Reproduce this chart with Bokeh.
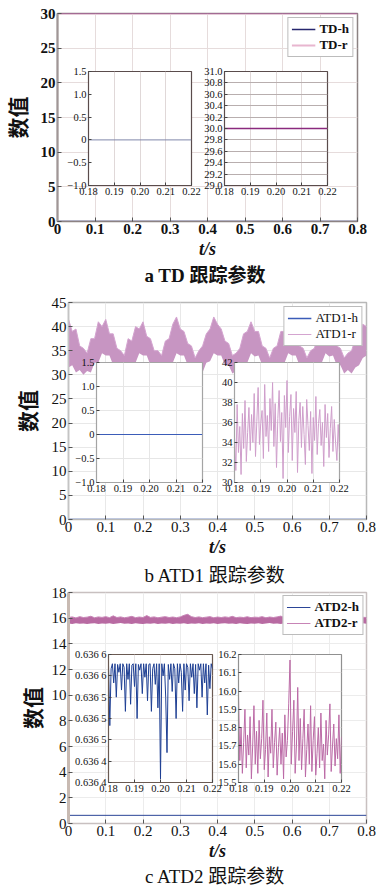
import numpy as np
from bokeh.plotting import figure
from bokeh.models import Range1d, FixedTicker, Legend, LegendItem, Title
from bokeh.layouts import column
from bokeh.embed import file_html
from bokeh.resources import INLINE

SERIF = "Liberation Serif"
CJK = "Noto Sans CJK SC"
MIX = "Liberation Serif, Noto Sans CJK SC"

# ---------------- data ----------------
x_ticks_main = [0, 0.1, 0.2, 0.3, 0.4, 0.5, 0.6, 0.7, 0.8]
x_labels_main = ["0", "0.1", "0.2", "0.3", "0.4", "0.5", "0.6", "0.7", "0.8"]
x_ticks_zoom = [0.18, 0.19, 0.20, 0.21, 0.22]
x_labels_zoom = ["0.18", "0.19", "0.20", "0.21", "0.22"]

# panel a : TD
td_t = [0.0, 0.8]
td_h = [0.0, 0.0]
td_r = [30.0, 30.0]
td_t_zoom = [0.18, 0.22]
td_h_zoom = [0.0, 0.0]
td_r_zoom = [30.0, 30.0]
a_y_ticks = [0, 5, 10, 15, 20, 25, 30]
a1_y_ticks = [-1.0, -0.5, 0, 0.5, 1.0, 1.5]
a1_y_labels = ["\u22121.0", "\u22120.5", "0", "0.5", "1.0", "1.5"]
a2_y_ticks = [29.0, 29.2, 29.4, 29.6, 29.8, 30.0, 30.2, 30.4, 30.6, 30.8, 31.0]
a2_y_labels = ["29.0", "29.2", "29.4", "29.6", "29.8", "30.0", "30.2", "30.4", "30.6", "30.8", "31.0"]

# panel b : ATD1 (envelope of the dense r trace, read every 0.01 s)
atd1_r_up = [41.5, 39.0, 39.5, 36.0, 35.5, 34.5, 37.5, 37.5, 41.0, 40.0,
             41.5, 38.5, 38.5, 35.5, 35.0, 34.0, 37.5, 37.0, 40.0, 39.5,
             41.0, 38.0, 37.5, 35.0, 35.0, 34.0, 37.0, 37.5, 40.5, 42.0,
             39.5, 39.0, 36.5, 36.0, 33.5, 35.0, 36.0, 38.5, 39.5, 42.0,
             40.5, 39.5, 37.0, 36.5, 34.0, 34.5, 35.5, 38.5, 39.0, 41.0,
             39.0, 39.0, 36.0, 35.5, 33.5, 35.5, 36.0, 39.0, 39.0, 41.0,
             39.5, 38.5, 36.0, 35.5, 33.5, 35.0, 35.5, 38.0, 38.5, 40.5,
             39.0, 38.5, 36.0, 35.5, 33.5, 34.5, 35.0, 37.5, 38.0, 40.5, 40.0]
atd1_r_lo = [31.5, 32.0, 30.5, 31.0, 30.0, 30.8, 30.5, 32.5, 32.5, 34.5,
             34.0, 34.0, 32.0, 32.0, 30.3, 31.0, 30.5, 32.5, 32.5, 34.5,
             34.0, 34.0, 32.0, 32.0, 30.3, 30.8, 30.5, 32.5, 32.5, 34.5,
             34.0, 34.0, 32.0, 32.0, 30.3, 31.0, 30.5, 32.5, 32.8, 34.5,
             34.0, 34.0, 32.0, 32.0, 30.3, 30.8, 30.5, 32.5, 32.5, 34.5,
             33.8, 34.0, 32.0, 32.0, 30.3, 31.0, 30.5, 32.5, 32.5, 34.5,
             34.0, 34.0, 32.0, 32.0, 30.3, 31.0, 30.5, 32.5, 32.5, 34.5,
             33.8, 34.0, 32.0, 32.0, 30.3, 31.0, 30.3, 31.5, 32.0, 33.5, 34.0]
atd1_h = [0.0, 0.0]
atd1_h_zoom = [0.0, 0.0]
atd1_r_zoom = [34.5, 31.2, 37.8, 33.0, 35.6, 30.8, 36.9, 33.4, 38.2, 32.1,
               35.0, 37.5, 33.2, 36.8, 34.0, 38.9, 32.6, 36.1, 39.5, 33.8,
               35.9, 37.2, 32.4, 39.8, 34.6, 36.7, 33.1, 38.4, 35.2, 40.0,
               33.6, 37.9, 31.5, 36.4, 39.2, 34.1, 37.0, 30.4, 38.7, 35.5,
               40.2, 33.0, 36.6, 38.8, 32.2, 37.4, 35.0, 39.1, 31.0, 36.2,
               38.0, 33.5, 37.6, 34.8, 31.8, 38.3, 35.7, 33.2, 37.1, 30.9,
               36.5, 34.2, 38.6, 32.8, 35.9, 37.3, 33.7, 36.0, 31.6, 37.8,
               34.5, 36.9, 32.5, 35.4, 37.6, 33.1, 36.3, 34.0, 32.2, 35.8, 33.0]
b_y_ticks = [0, 5, 10, 15, 20, 25, 30, 35, 40, 45]
b1_y_ticks = a1_y_ticks
b1_y_labels = a1_y_labels
b2_y_ticks = [30, 32, 34, 36, 38, 40, 42]
b2_y_labels = ["30", "32", "34", "36", "38", "40", "42"]

# panel c : ATD2
atd2_r_up = [16.05, 16.10, 16.02, 16.12, 16.05, 16.08, 16.15, 16.03, 16.10, 16.06,
             16.12, 16.04, 16.18, 16.05, 16.10, 16.03, 16.08, 16.14, 16.04, 16.09,
             16.05, 16.20, 16.06, 16.10, 16.03, 16.08, 16.12, 16.05, 16.09, 16.04,
             16.10, 16.22, 16.30, 16.12, 16.05, 16.10, 16.04, 16.08, 16.12, 16.03,
             16.09, 16.05, 16.10, 16.06, 16.14, 16.04, 16.08, 16.05, 16.11, 16.04,
             16.08, 16.06, 16.12, 16.03, 16.09, 16.05, 16.10, 16.16, 16.05, 16.08,
             16.04, 16.10, 16.06, 16.12, 16.20, 16.05, 16.08, 16.04, 16.10, 16.06,
             16.03, 16.09, 16.05, 16.11, 16.04, 16.08, 16.05, 16.10, 16.04, 16.07, 16.05]
atd2_r_lo = [15.58, 15.55, 15.60, 15.56, 15.59, 15.54, 15.58, 15.61, 15.55, 15.58,
             15.56, 15.60, 15.55, 15.58, 15.62, 15.56, 15.59, 15.55, 15.60, 15.57,
             15.55, 15.59, 15.56, 15.61, 15.55, 15.58, 15.56, 15.60, 15.55, 15.58,
             15.57, 15.60, 15.55, 15.59, 15.56, 15.61, 15.55, 15.58, 15.56, 15.60,
             15.55, 15.58, 15.61, 15.56, 15.59, 15.55, 15.60, 15.57, 15.55, 15.59,
             15.56, 15.60, 15.55, 15.58, 15.62, 15.56, 15.59, 15.55, 15.60, 15.57,
             15.55, 15.58, 15.56, 15.61, 15.55, 15.59, 15.56, 15.60, 15.55, 15.58,
             15.57, 15.60, 15.55, 15.59, 15.56, 15.61, 15.55, 15.58, 15.56, 15.60, 15.57]
atd2_h = [0.6365, 0.6365]
atd2_h_zoom = [0.636565, 0.636480, 0.636560, 0.636567, 0.636540, 0.636567, 0.636520, 0.636566, 0.636555, 0.636567,
               0.636530, 0.636567, 0.636562, 0.636500, 0.636567, 0.636545, 0.636567, 0.636510, 0.636565, 0.636567,
               0.636535, 0.636567, 0.636490, 0.636566, 0.636558, 0.636567, 0.636525, 0.636567, 0.636548, 0.636567,
               0.636515, 0.636566, 0.636567, 0.636500, 0.636560, 0.636567, 0.636538, 0.636567, 0.636505, 0.636567,
               0.636405, 0.636567, 0.636550, 0.636567, 0.636520, 0.636442, 0.636566, 0.636545, 0.636567, 0.636528,
               0.636567, 0.636560, 0.636490, 0.636567, 0.636540, 0.636567, 0.636555, 0.636500, 0.636567, 0.636530,
               0.636567, 0.636562, 0.636515, 0.636567, 0.636548, 0.636567, 0.636525, 0.636566, 0.636505, 0.636567,
               0.636558, 0.636567, 0.636520, 0.636567, 0.636540, 0.636567, 0.636495, 0.636565, 0.636532, 0.636567, 0.636560]
atd2_r_zoom = [15.98, 15.62, 15.80, 15.55, 15.72, 15.90, 15.58, 15.76, 15.65, 15.86,
               15.52, 15.70, 15.92, 15.60, 15.78, 15.55, 15.84, 15.63, 15.74, 15.95,
               15.57, 15.68, 15.88, 15.53, 15.75, 15.66, 15.90, 15.58, 15.72, 15.83,
               15.54, 15.69, 15.80, 15.60, 15.77, 15.52, 15.87, 15.64, 15.73, 15.93,
               16.17, 15.60, 15.78, 15.95, 15.55, 15.70, 16.02, 15.62, 15.85, 15.57,
               15.74, 15.90, 15.53, 15.68, 15.82, 15.60, 15.92, 15.56, 15.73, 15.86,
               15.54, 15.66, 15.80, 15.58, 15.88, 15.62, 15.71, 15.52, 15.84, 15.65,
               15.76, 15.93, 15.56, 15.70, 15.82, 15.59, 15.74, 15.63, 15.87, 15.55, 15.75]
c_y_ticks = [0, 2, 4, 6, 8, 10, 12, 14, 16, 18]
c1_y_ticks = [0.63640, 0.63643, 0.63646, 0.63649, 0.63652, 0.63655, 0.63658]
c1_y_labels = ["0.636 4", "0.636 4", "0.636 5", "0.636 5", "0.636 5", "0.636 6", "0.636 6"]
c2_y_ticks = [15.5, 15.6, 15.7, 15.8, 15.9, 16.0, 16.1, 16.2]
c2_y_labels = ["15.5", "15.6", "15.7", "15.8", "15.9", "16.0", "16.1", "16.2"]

captions = ["a  TD 跟踪参数", "b  ATD1 跟踪参数", "c  ATD2 跟踪参数"]
x_axis_title = "t/s"
y_axis_title = "数值"
legend_a = ["TD-h", "TD-r"]
legend_b = ["ATD1-h", "ATD1-r"]
legend_c = ["ATD2-h", "ATD2-r"]

# sample times of the sampled series
t_main_b = np.linspace(0.0, 0.8, len(atd1_r_up))
t_main_c = np.linspace(0.0, 0.8, len(atd2_r_up))
t_zoom_b = np.linspace(0.18, 0.22, len(atd1_r_zoom))
t_zoom_c1 = np.linspace(0.18, 0.22, len(atd2_h_zoom))
t_zoom_c2 = np.linspace(0.18, 0.22, len(atd2_r_zoom))

# the column aligns the side borders of all its plots, so every plot gets the same ones;
# every plot must also stay within the 376 px page width
BL = 64
BR = 10


def absolute(left, top):
    return {"position": "absolute", "left": f"{left}px", "top": f"{top}px", "max-width": "none"}


# ---------------- helpers ----------------
def make_main(pos_top, ymax, yticks, fx, fy, fw, fh, bottom, grid_color, outline_color,
              yaxis_color, yaxis_width, bold, ylab_standoff, caption, cap_standoff):
    p = figure(frame_width=fw, frame_height=fh, x_range=Range1d(0, 0.8), y_range=Range1d(0, ymax),
               min_border_left=BL, min_border_right=BR, min_border_top=fy - pos_top,
               min_border_bottom=bottom, output_backend="svg", toolbar_location=None, title=None,
               styles=absolute(fx - BL, pos_top))
    p.xaxis.ticker = FixedTicker(ticks=x_ticks_main, minor_ticks=[])
    p.xaxis.major_label_overrides = dict(zip(x_ticks_main, x_labels_main))
    p.yaxis.ticker = FixedTicker(ticks=yticks, minor_ticks=[])
    for ax in (p.xaxis[0], p.yaxis[0]):
        ax.major_label_text_font = SERIF
        ax.major_label_text_font_size = "15px"
        ax.major_label_text_font_style = "bold" if bold else "normal"
        ax.major_label_text_color = "#111111"
        ax.major_tick_in = 4
        ax.major_tick_out = 0
        ax.minor_tick_in = 0
        ax.minor_tick_out = 0
        ax.major_tick_line_color = "#555555"
        ax.major_label_standoff = 2
    p.yaxis.axis_line_color = yaxis_color
    p.yaxis.axis_line_width = yaxis_width
    p.xaxis.axis_line_color = outline_color
    p.yaxis.axis_label = y_axis_title
    p.yaxis.axis_label_text_font = CJK
    p.yaxis.axis_label_text_font_size = "21px"
    p.yaxis.axis_label_text_font_style = "bold"
    p.yaxis.axis_label_text_color = "#111111"
    p.yaxis.axis_label_standoff = ylab_standoff
    p.xaxis.axis_label = x_axis_title
    p.xaxis.axis_label_text_font = SERIF
    p.xaxis.axis_label_text_font_size = "18px"
    p.xaxis.axis_label_text_font_style = "bold italic"
    p.xaxis.axis_label_text_color = "#111111"
    p.xaxis.axis_label_standoff = 2
    p.add_layout(Title(text=caption, align="center", text_font=MIX, text_font_size="19px",
                       text_font_style="bold" if bold else "normal", text_color="#111111",
                       standoff=cap_standoff), "below")
    p.grid.grid_line_color = grid_color
    p.grid.grid_line_width = 1
    p.outline_line_color = outline_color
    p.outline_line_width = 1.5
    p.background_fill_color = "white"
    p.border_fill_alpha = 0
    return p


def add_legend(p, items, bold, margin):
    lg = Legend(items=[LegendItem(label=l, renderers=[r]) for l, r in items], location="top_right",
                margin=margin, padding=3, spacing=0, glyph_width=24, glyph_height=14, label_height=14,
                label_standoff=4, label_text_font=SERIF, label_text_font_size="13px",
                label_text_font_style="bold" if bold else "normal", label_text_color="#111111",
                border_line_color="#7a7a7a", border_line_width=1,
                background_fill_color="white", background_fill_alpha=1)
    p.add_layout(lg)


def make_inset(fx, fy, fw, fh, yr, yticks, ylabels, outline_color, grid_color, hgrid_color):
    bt, bb = 7, 16
    p = figure(frame_width=fw, frame_height=fh, x_range=Range1d(0.18, 0.22), y_range=Range1d(*yr),
               min_border_left=BL, min_border_right=BR, min_border_top=bt, min_border_bottom=bb,
               output_backend="svg", toolbar_location=None, title=None,
               styles=absolute(fx - BL, fy - bt))
    p.border_fill_alpha = 0
    p.background_fill_color = "white"
    p.xaxis.ticker = FixedTicker(ticks=x_ticks_zoom, minor_ticks=[])
    p.xaxis.major_label_overrides = dict(zip(x_ticks_zoom, x_labels_zoom))
    p.yaxis.ticker = FixedTicker(ticks=yticks, minor_ticks=[])
    p.yaxis.major_label_overrides = dict(zip(yticks, ylabels))
    for ax in (p.xaxis[0], p.yaxis[0]):
        ax.major_label_text_font = SERIF
        ax.major_label_text_font_size = "10.5px"
        ax.major_label_text_color = "#111111"
        ax.major_tick_in = 3
        ax.major_tick_out = 0
        ax.minor_tick_in = 0
        ax.minor_tick_out = 0
        ax.major_label_standoff = 2
        ax.axis_line_color = outline_color
        ax.major_tick_line_color = "#444444"
    p.xgrid.grid_line_color = grid_color
    p.ygrid.grid_line_color = hgrid_color
    p.outline_line_color = outline_color
    p.outline_line_width = 1.2
    return p


# ---------------- panel a ----------------
pa = make_main(0, 30, a_y_ticks, 57, 13, 300, 208, 64, "#e6dcdc", "#8c8282", "#a09696", 2, True, 6,
               captions[0], 2)
ra_h = pa.line(td_t, td_h, line_color="#26266e", line_width=1.5)
ra_r = pa.line(td_t, td_r, line_color="#e8b6cf", line_width=2)
pa.line(td_t, td_r, line_color="#8a3a7e", line_width=1.2)
add_legend(pa, [(legend_a[0], ra_h), (legend_a[1], ra_r)], True, 4)

ia1 = make_inset(88, 71, 103, 114, (-1.0, 1.5), a1_y_ticks, a1_y_labels, "#5a4c4c", "#e0d8d8", None)
ia1.line(td_t_zoom, td_h_zoom, line_color="#8088aa", line_width=1)
ia2 = make_inset(224, 71, 103, 114, (29.0, 31.0), a2_y_ticks, a2_y_labels, "#5a4c4c", "#e0d8d8", "#b8aeae")
ia2.line(td_t_zoom, td_r_zoom, line_color="#8a2a7e", line_width=1.5)

# ---------------- panel b ----------------
pb = make_main(285, 45, b_y_ticks, 68, 302, 298, 217, 64, "#e8e8e8", "#b8b8b8", "#c4c4c4", 1.5, False, 7,
               captions[1], 6)
pb.varea(x=t_main_b, y1=atd1_r_lo, y2=atd1_r_up, fill_color="#c795c2")
rb_r = pb.line(t_main_b, atd1_r_up, line_color="#d4a4d0", line_width=1)
rb_h = pb.line(td_t, atd1_h, line_color="#3b5cb8", line_width=1.5)
add_legend(pb, [(legend_b[0], rb_h), (legend_b[1], rb_r)], False, 4)

ib1 = make_inset(96, 362, 106, 120, (-1.0, 1.5), b1_y_ticks, b1_y_labels, "#a4a4a4", "#e6e6e6", "#e6e6e6")
ib1.line(td_t_zoom, atd1_h_zoom, line_color="#3b5cb8", line_width=1.2)
ib2 = make_inset(234, 362, 105, 120, (30, 42), b2_y_ticks, b2_y_labels, "#a4a4a4", "#e6e6e6", "#e6e6e6")
ib2.line(t_zoom_b, atd1_r_zoom, line_color="#cf9ecb", line_width=1)

# ---------------- panel c ----------------
pc = make_main(580, 18, c_y_ticks, 68, 592, 298, 231, 62, "#ececec", "#c8c0c0", "#c8bab2", 3, False, 2,
               captions[2], 0)
pc.varea(x=t_main_c, y1=atd2_r_lo, y2=atd2_r_up, fill_color="#b86aa2")
rc_r = pc.line(t_main_c, atd2_r_up, line_color="#c784b6", line_width=1)
rc_h = pc.line(td_t, atd2_h, line_color="#2b4597", line_width=1)
add_legend(pc, [(legend_c[0], rc_h), (legend_c[1], rc_r)], True, 3)

ic1 = make_inset(108, 654, 104, 128, (0.63640, 0.63658), c1_y_ticks, c1_y_labels, "#6a5a52", "#e8e4e4", "#e8e4e4")
ic1.line(t_zoom_c1, atd2_h_zoom, line_color="#1e3f93", line_width=1)
ic2 = make_inset(238, 654, 103, 128, (15.5, 16.2), c2_y_ticks, c2_y_labels, "#909090", "#e8e4e4", "#e8e4e4")
ic2.line(t_zoom_c2, atd2_r_zoom, line_color="#bb6aa6", line_width=1)

root = column(pa, pb, pc, ia1, ia2, ib1, ib2, ic1, ic2, spacing=0,
              styles={"position": "absolute", "left": "0px", "top": "0px",
                      "width": "376px", "height": "889px", "overflow": "hidden"})

open("out.html", "w").write(file_html(root, INLINE))
